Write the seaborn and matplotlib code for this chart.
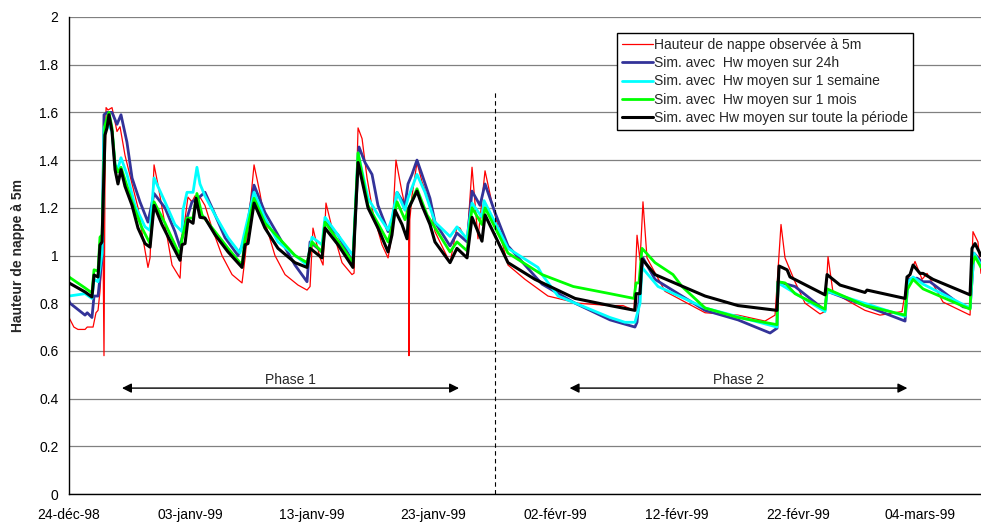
import pandas as pd
import seaborn as sns
import matplotlib.pyplot as plt

# Données (jours depuis le 24-déc-98, hauteur en m)
start = pd.Timestamp("1998-12-24")

obs_t = [0.0, 0.4, 0.74, 1.32, 1.5, 1.98, 2.22, 2.39, 2.55, 2.72, 2.80, 2.88, 2.96, 3.05, 3.21, 3.54,
         3.79, 3.95, 4.20, 4.61, 5.19, 5.68, 6.09, 6.50, 6.67, 7.00, 7.33, 7.90, 8.48, 9.14, 9.30, 9.79,
         10.12, 10.37, 10.78, 11.19, 11.77, 12.59, 13.42, 14.24, 14.49, 15.23, 15.72, 16.13, 16.95,
         17.78, 18.85, 19.59, 19.84, 20.08, 20.66, 20.91, 21.15, 21.65, 22.47, 23.29, 23.46, 23.79,
         24.12, 24.53, 25.02, 25.76, 26.26, 26.58, 26.91, 27.41, 27.82, 27.95, 27.98, 28.05, 28.23,
         28.64, 29.05, 29.71, 30.12, 31.36, 31.93, 32.18, 32.76, 33.17, 33.66, 34.24, 34.81, 36.13,
         37.53, 39.42, 41.89, 44.53, 45.6, 46.5, 46.75, 47.0, 47.24, 47.57, 49.05, 52.35, 55.06, 57.28,
         58.11, 58.6, 58.93, 59.75, 60.58, 61.81, 62.22, 62.47, 62.88, 65.51, 66.75, 68.56, 68.97,
         69.63, 70.21, 70.62, 71.93, 74.16, 74.4, 74.81, 75.06]
obs_h = [0.74, 0.70, 0.69, 0.69, 0.70, 0.70, 0.76, 0.77, 0.85, 1.0, 1.05, 0.58, 1.3, 1.62, 1.61, 1.62,
         1.56, 1.52, 1.54, 1.42, 1.30, 1.20, 1.07, 0.95, 0.99, 1.38, 1.295, 1.13, 0.96, 0.905, 1.057, 1.245,
         1.225, 1.25, 1.245, 1.21, 1.115, 1.0, 0.92, 0.885, 0.99, 1.38, 1.26, 1.14, 1.0,
         0.92, 0.876, 0.855, 0.87, 1.115, 0.99, 0.96, 1.22, 1.115, 0.97, 0.92, 0.926, 1.535,
         1.49, 1.325, 1.18, 1.045, 0.99, 1.086, 1.40, 1.265, 1.17, 1.15, 0.58, 1.15, 1.25,
         1.39, 1.31, 1.22, 1.10, 0.97, 1.12, 1.115, 1.057, 1.37, 1.07, 1.355, 1.22, 0.96,
         0.90, 0.83, 0.80, 0.79, 0.79, 0.77, 1.085, 0.98, 1.225, 0.99, 0.85, 0.76, 0.75, 0.725,
         0.75, 1.13, 0.99, 0.89, 0.80, 0.755, 0.765, 0.995, 0.845, 0.77, 0.75, 0.765, 0.89,
         0.975, 0.90, 0.925, 0.805, 0.75, 1.10, 1.057, 0.925]

h24_t = [0.0, 0.08, 1.32, 1.5, 1.89, 2.06, 2.39, 2.72, 2.88, 3.13, 3.54, 3.95, 4.28, 4.77, 5.19, 5.84,
         6.50, 7.0, 7.90, 8.72, 9.14, 9.55, 10.12, 10.62, 11.19, 11.77, 12.84, 13.91, 14.49, 15.23,
         16.13, 17.20, 18.60, 19.59, 19.84, 20.82, 21.07, 22.14, 23.37, 23.87, 24.36, 24.94, 25.43,
         26.26, 26.58, 27.0, 27.65, 27.9, 28.23, 28.64, 29.05, 29.71, 30.12, 31.36, 31.93, 32.76,
         33.17, 33.83, 34.24, 35.06, 36.13, 38.93, 41.65, 44.53, 46.58, 46.75, 47.24, 48.23, 52.35,
         55.06, 57.7, 58.27, 58.35, 59.75, 62.22, 62.39, 65.51, 68.81, 69.05, 69.79, 70.29, 70.86,
         73.58, 74.16, 74.48, 75.06]
h24_h = [0.81, 0.80, 0.75, 0.76, 0.74, 0.83, 0.83, 0.99, 1.59, 1.60, 1.60, 1.55, 1.59, 1.475, 1.325, 1.225,
         1.14, 1.26, 1.20, 1.10, 1.035, 1.13, 1.225, 1.24, 1.265, 1.20, 1.075, 1.0, 1.07, 1.295,
         1.18, 1.086, 0.96, 0.89, 1.057, 1.015, 1.14, 1.086, 0.97, 1.455, 1.39, 1.34, 1.21,
         1.10, 1.14, 1.265, 1.21, 1.30, 1.34, 1.40, 1.34, 1.24, 1.14, 1.04, 1.094, 1.057,
         1.27, 1.21, 1.30, 1.18, 1.04, 0.88, 0.80, 0.73, 0.70, 0.72, 0.99, 0.90, 0.77,
         0.73, 0.675, 0.695, 0.89, 0.87, 0.77, 0.85, 0.79, 0.725, 0.90, 0.905, 0.89, 0.89,
         0.785, 0.78, 1.01, 0.975]

sem_t = [0.0, 1.32, 1.89, 2.06, 2.39, 2.72, 2.88, 3.13, 3.54, 3.79, 4.03, 4.28, 4.77, 5.43, 6.26, 6.67,
         7.0, 7.90, 8.72, 9.30, 9.38, 9.71, 10.21, 10.53, 10.78, 11.19, 12.02, 13.09, 14.07, 14.49,
         15.23, 16.13, 17.20, 19.59, 20.0, 20.82, 21.07, 22.14, 23.37, 23.79, 24.61, 25.43, 26.26,
         26.58, 27.0, 27.65, 27.9, 28.64, 29.3, 30.12, 31.36, 31.93, 32.76, 33.17, 33.99, 34.16,
         36.13, 38.6, 38.93, 40.25, 44.53, 45.76, 46.58, 47.0, 47.16, 48.48, 52.35, 58.27, 58.35,
         59.34, 62.22, 62.39, 68.81, 69.05, 69.47, 70.29, 74.16, 74.48, 75.06]
sem_h = [0.83, 0.84, 0.82, 0.90, 0.89, 1.01, 1.535, 1.56, 1.52, 1.38, 1.365, 1.41, 1.34, 1.21, 1.12, 1.105,
         1.325, 1.225, 1.13, 1.10, 1.19, 1.265, 1.265, 1.37, 1.30, 1.25, 1.17, 1.075, 1.01, 1.105,
         1.265, 1.157, 1.057, 0.96, 1.077, 1.045, 1.16, 1.086, 1.0, 1.43, 1.24, 1.17, 1.107,
         1.157, 1.265, 1.19, 1.24, 1.34, 1.265, 1.14, 1.08, 1.12, 1.07, 1.22, 1.16, 1.23,
         1.03, 0.95, 0.92, 0.83, 0.74, 0.72, 0.72, 0.80, 0.95, 0.87, 0.78, 0.70, 0.885,
         0.855, 0.765, 0.85, 0.745, 0.89, 0.91, 0.88, 0.78, 1.01, 0.96]

mois_t = [0.0, 1.32, 1.89, 2.06, 2.39, 2.55, 2.72, 2.96, 3.29, 3.54, 3.79, 4.03, 4.28, 5.19, 6.01, 6.67,
          7.0, 7.90, 8.72, 9.14, 9.30, 9.71, 10.21, 10.53, 10.95, 12.02, 13.09, 14.24, 14.49, 15.23,
          16.13, 18.60, 19.59, 20.0, 20.82, 21.07, 23.37, 23.79, 24.61, 26.26, 26.58, 27.0, 27.65,
          27.9, 28.64, 29.47, 31.36, 31.93, 32.76, 33.17, 33.99, 34.24, 36.13, 38.93, 41.5, 44.53,
          46.5, 46.67, 46.91, 47.16, 48.23, 49.71, 50.45, 52.35, 55.06, 58.27, 58.35, 58.93, 59.75,
          62.22, 62.39, 65.51, 68.81, 68.97, 69.47, 70.29, 74.16, 74.32, 74.57, 75.06]
mois_h = [0.91, 0.864, 0.843, 0.94, 0.935, 1.077, 1.086, 1.547, 1.60, 1.535, 1.38, 1.35, 1.37, 1.225, 1.115, 1.05,
          1.225, 1.136, 1.045, 1.0, 1.07, 1.157, 1.157, 1.26, 1.17, 1.10, 1.03, 0.96, 1.07, 1.24,
          1.136, 1.0, 0.97, 1.057, 1.015, 1.14, 0.97, 1.43, 1.21, 1.057, 1.12, 1.225, 1.15,
          1.19, 1.28, 1.17, 1.015, 1.057, 1.02, 1.20, 1.13, 1.20, 1.01, 0.92, 0.87, 0.84,
          0.82, 0.885, 0.885, 1.03, 0.97, 0.92, 0.87, 0.78, 0.74, 0.71, 0.89, 0.885, 0.84,
          0.775, 0.86, 0.79, 0.75, 0.855, 0.90, 0.86, 0.775, 0.96, 0.995, 0.95]

tot_t = [0.0, 1.32, 1.89, 2.06, 2.39, 2.55, 2.72, 2.96, 3.13, 3.29, 3.54, 3.79, 4.03, 4.28, 4.61, 5.19,
         5.68, 6.26, 6.67, 7.0, 7.65, 8.48, 9.14, 9.30, 9.55, 9.79, 10.21, 10.45, 10.78, 11.19, 12.02,
         13.09, 14.24, 14.49, 14.73, 15.23, 16.13, 17.20, 18.60, 19.59, 19.84, 20.82, 21.07, 22.14,
         23.37, 23.79, 24.61, 25.43, 26.26, 26.58, 26.83, 27.41, 27.82, 27.98, 28.64, 29.05, 29.71,
         30.12, 31.36, 31.93, 32.76, 33.17, 33.99, 34.24, 36.13, 38.35, 41.65, 44.53, 46.58, 46.67,
         47.0, 47.16, 48.23, 52.35, 55.06, 58.27, 58.44, 59.1, 59.34, 62.22, 62.39, 63.46, 65.51,
         65.68, 68.81, 68.97, 69.22, 69.47, 70.04, 70.29, 71.11, 74.16, 74.32, 74.57, 75.06]
tot_h = [0.885, 0.847, 0.826, 0.918, 0.91, 1.044, 1.057, 1.505, 1.535, 1.59, 1.52, 1.36, 1.30, 1.36, 1.29, 1.21,
         1.115, 1.05, 1.035, 1.21, 1.13, 1.045, 0.98, 1.045, 1.05, 1.15, 1.135, 1.24, 1.16, 1.157, 1.087,
         1.015, 0.95, 1.045, 1.05, 1.22, 1.115, 1.03, 0.97, 0.95, 1.03, 0.99, 1.115, 1.045,
         0.95, 1.39, 1.20, 1.115, 1.015, 1.086, 1.19, 1.13, 1.07, 1.20, 1.27, 1.21, 1.13,
         1.057, 0.97, 1.03, 0.99, 1.16, 1.06, 1.17, 0.97, 0.90, 0.82, 0.79, 0.77, 0.84,
         0.84, 0.985, 0.92, 0.83, 0.79, 0.77, 0.956, 0.94, 0.91, 0.835, 0.92, 0.876, 0.845,
         0.855, 0.82, 0.91, 0.92, 0.96, 0.925, 0.925, 0.90, 0.835, 1.03, 1.05, 1.00]

labels = ["Hauteur de nappe observée à 5m",
          "Sim. avec  Hw moyen sur 24h",
          "Sim. avec  Hw moyen sur 1 semaine",
          "Sim. avec  Hw moyen sur 1 mois",
          "Sim. avec Hw moyen sur toute la période"]
tick_labels = ["24-déc-98", "03-janv-99", "13-janv-99", "23-janv-99",
               "02-févr-99", "12-févr-99", "22-févr-99", "04-mars-99"]

sns.set_style("white")
plt.rcParams['font.family'] = ['Liberation Sans', 'DejaVu Sans']

def to_dates(days):
    return start + pd.to_timedelta(days, unit="D")

fig = plt.figure(figsize=(9.81, 5.23), dpi=100)
ax = fig.add_axes([69 / 981, 29 / 523, 912 / 981, 477 / 523])

series = [(obs_t, obs_h, "#FF0000", 0.9),
          (h24_t, h24_h, "#333399", 2.0),
          (sem_t, sem_h, "#00FFFF", 2.0),
          (mois_t, mois_h, "#00FF00", 2.0),
          (tot_t, tot_h, "#000000", 2.2)]
for (t, h, col, lw), lab in zip(series, labels):
    sns.lineplot(x=to_dates(t), y=h, color=col, lw=lw, label=lab, ax=ax,
                 estimator=None, sort=False)

# axes
ax.set_ylim(0, 2)
ax.set_yticks([0, 0.2, 0.4, 0.6, 0.8, 1.0, 1.2, 1.4, 1.6, 1.8, 2.0])
ax.set_yticklabels(["0", "0.2", "0.4", "0.6", "0.8", "1", "1.2", "1.4", "1.6", "1.8", "2"])
ax.set_xlim(start, to_dates(75.06))
ax.set_xticks(to_dates([0, 10, 20, 30, 40, 50, 60, 70]))
ax.set_xticklabels(tick_labels)
ax.tick_params(axis="both", labelsize=10, direction="out", length=4, width=0.8, colors="black")
ax.tick_params(axis="x", pad=6)
ax.grid(axis="y", color="#808080", lw=0.9)
ax.set_axisbelow(True)
for s in ["top", "right"]:
    ax.spines[s].set_visible(False)
for s in ["left", "bottom"]:
    ax.spines[s].set_color("black")
    ax.spines[s].set_linewidth(1.0)
ax.set_xlabel("")
ax.set_ylabel("Hauteur de nappe à 5m", fontsize=10, fontweight="bold", labelpad=10)

# séparation des phases
ax.vlines(to_dates(35.06), 0, 1.685, colors="black", lw=0.8, linestyles=(0, (4, 3)))
for a, b, txt in [(4.36, 32.1, "Phase 1"), (41.2, 69.0, "Phase 2")]:
    ax.annotate("", xy=(to_dates(a), 0.444), xytext=(to_dates(b), 0.444),
                arrowprops=dict(arrowstyle="<|-|>", color="black", lw=1.0,
                                mutation_scale=14, shrinkA=0, shrinkB=0))
    ax.text(to_dates((a + b) / 2), 0.45, txt, ha="center", va="bottom", fontsize=10)

leg = ax.legend(loc="upper left", bbox_to_anchor=(0.601, 0.966), borderaxespad=0,
                fontsize=10, handlelength=2.2, handletextpad=0.1, labelspacing=0.3,
                borderpad=0.35, fancybox=False, framealpha=1, edgecolor="black")
leg.get_frame().set_linewidth(1.0)

fig.savefig("out.png", dpi=100)
